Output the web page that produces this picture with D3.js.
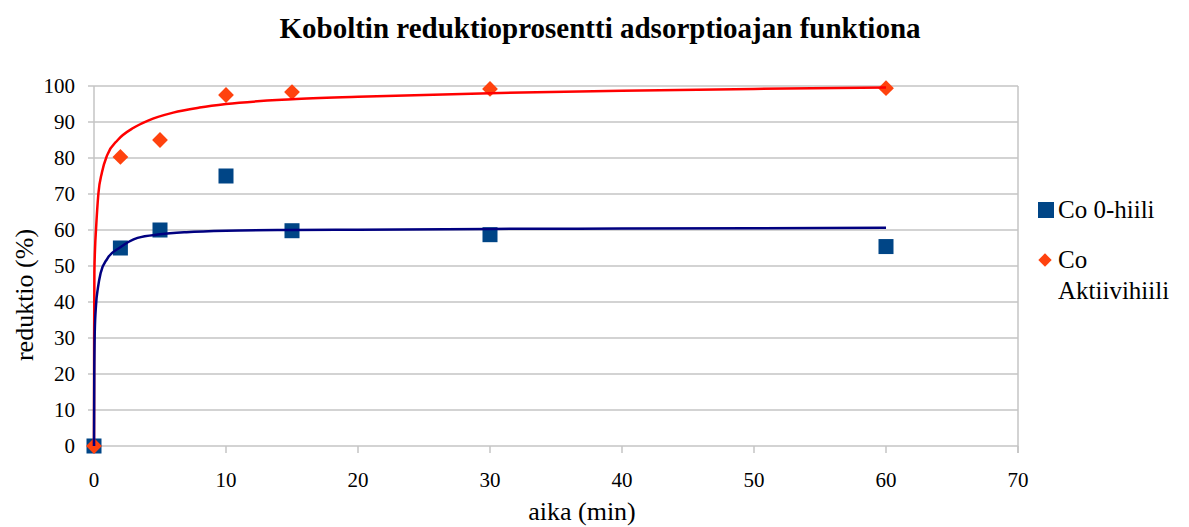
<!DOCTYPE html>
<html>
<head>
<meta charset="utf-8">
<script src="https://cdn.jsdelivr.net/npm/d3@7"></script>
<style>
  body { margin: 0; background: #fff; }
  svg text { font-family: "Liberation Serif", "Times New Roman", serif; fill: #000; }
</style>
</head>
<body>
<svg id="chart" width="1189" height="527"></svg>
<script>
// measured points
const times = [0, 2, 5, 10, 15, 30, 60];
const co0hiili = [0, 55, 60, 75, 59.8, 58.7, 55.4];
const coAktiivi = [0, 80.3, 85, 97.5, 98.3, 99.2, 99.4];

// trend curves
const fitBlueX = [0, 0.02, 0.06, 0.15, 0.3, 0.5, 1, 2, 3.3, 5, 7, 10, 15, 20, 30, 40, 50, 60];
const fitBlueY = [0, 20, 32, 39, 44, 48, 52, 55.2, 57.8, 58.8, 59.4, 59.8, 60, 60.1, 60.3, 60.4, 60.5, 60.6];
const fitRedX = [0, 0.01, 0.03, 0.08, 0.15, 0.33, 0.6, 1, 1.8, 3, 4.1, 6, 8, 10, 15, 20, 30, 40, 50, 60];
const fitRedY = [0, 30, 48, 55, 60, 70, 76, 80.8, 85, 88.4, 90.4, 92.6, 94, 95, 96.3, 97, 98, 98.7, 99.2, 99.6];

const xTicks = d3.range(0, 71, 10);
const yTicks = d3.range(0, 101, 10);

const svg = d3.select("#chart");
const x = d3.scaleLinear().domain([0, 70]).range([94, 1018]);
const y = d3.scaleLinear().domain([0, 100]).range([446, 86]);
const gridColor = "#c4c4c4";

// gridlines (extend left as outward ticks)
svg.append("g")
  .selectAll("line")
  .data(yTicks)
  .join("line")
  .attr("x1", 88)
  .attr("x2", x(70))
  .attr("y1", d => y(d))
  .attr("y2", d => y(d))
  .attr("stroke", gridColor)
  .attr("stroke-width", 1.5);

// y axis line and right border
svg.append("line")
  .attr("x1", x(0)).attr("x2", x(0))
  .attr("y1", y(100)).attr("y2", y(0) + 7)
  .attr("stroke", gridColor).attr("stroke-width", 1.5);
svg.append("line")
  .attr("x1", x(70)).attr("x2", x(70))
  .attr("y1", y(100)).attr("y2", y(0) + 7)
  .attr("stroke", gridColor).attr("stroke-width", 1.5);

// x tick marks
svg.append("g")
  .selectAll("line")
  .data(xTicks)
  .join("line")
  .attr("x1", d => x(d)).attr("x2", d => x(d))
  .attr("y1", y(0)).attr("y2", y(0) + 7)
  .attr("stroke", gridColor).attr("stroke-width", 1.5);

// tick labels
svg.append("g")
  .selectAll("text")
  .data(yTicks)
  .join("text")
  .attr("x", 75)
  .attr("y", d => y(d))
  .attr("dy", "0.35em")
  .attr("text-anchor", "end")
  .attr("font-size", 21)
  .text(d => d);

svg.append("g")
  .selectAll("text")
  .data(xTicks)
  .join("text")
  .attr("x", d => x(d))
  .attr("y", 487)
  .attr("text-anchor", "middle")
  .attr("font-size", 21)
  .text(d => d);

// titles
svg.append("text")
  .attr("x", 600).attr("y", 38)
  .attr("text-anchor", "middle")
  .attr("font-size", 29)
  .attr("font-weight", "bold")
  .text("Koboltin reduktioprosentti adsorptioajan funktiona");

svg.append("text")
  .attr("x", 582).attr("y", 520)
  .attr("text-anchor", "middle")
  .attr("font-size", 26)
  .text("aika (min)");

svg.append("text")
  .attr("transform", "translate(33,295) rotate(-90)")
  .attr("text-anchor", "middle")
  .attr("font-size", 26)
  .text("reduktio (%)");

// markers
const pts = times.map((t, i) => ({ t, blue: co0hiili[i], red: coAktiivi[i] }));

svg.append("g")
  .selectAll("rect")
  .data(pts)
  .join("rect")
  .attr("x", d => x(d.t) - 7.5)
  .attr("y", d => y(d.blue) - 7.5)
  .attr("width", 15)
  .attr("height", 15)
  .attr("fill", "#004586");

const diamond = d3.symbol().type(d3.symbolSquare).size(125);
svg.append("g")
  .selectAll("path")
  .data(pts)
  .join("path")
  .attr("d", diamond)
  .attr("transform", d => `translate(${x(d.t)},${y(d.red)}) rotate(45)`)
  .attr("fill", "#ff420e");

// trend curves
const line = d3.line()
  .x(d => x(d[0]))
  .y(d => y(d[1]))
  .curve(d3.curveMonotoneX);

svg.append("path")
  .datum(fitRedX.map((v, i) => [v, fitRedY[i]]))
  .attr("d", line)
  .attr("fill", "none")
  .attr("stroke", "#ff0000")
  .attr("stroke-width", 2.5);

svg.append("path")
  .datum(fitBlueX.map((v, i) => [v, fitBlueY[i]]))
  .attr("d", line)
  .attr("fill", "none")
  .attr("stroke", "#000080")
  .attr("stroke-width", 2.5);

// legend
const legend = svg.append("g");
legend.append("rect")
  .attr("x", 1038).attr("y", 202)
  .attr("width", 16).attr("height", 16)
  .attr("fill", "#004586");
legend.append("text")
  .attr("x", 1058).attr("y", 218)
  .attr("font-size", 25)
  .text("Co 0-hiili");
legend.append("path")
  .attr("d", d3.symbol().type(d3.symbolSquare).size(90))
  .attr("transform", "translate(1045,260) rotate(45)")
  .attr("fill", "#ff420e");
legend.append("text")
  .attr("x", 1058).attr("y", 268)
  .attr("font-size", 25)
  .text("Co");
legend.append("text")
  .attr("x", 1058).attr("y", 299)
  .attr("font-size", 25)
  .text("Aktiivihiili");
</script>
</body>
</html>
